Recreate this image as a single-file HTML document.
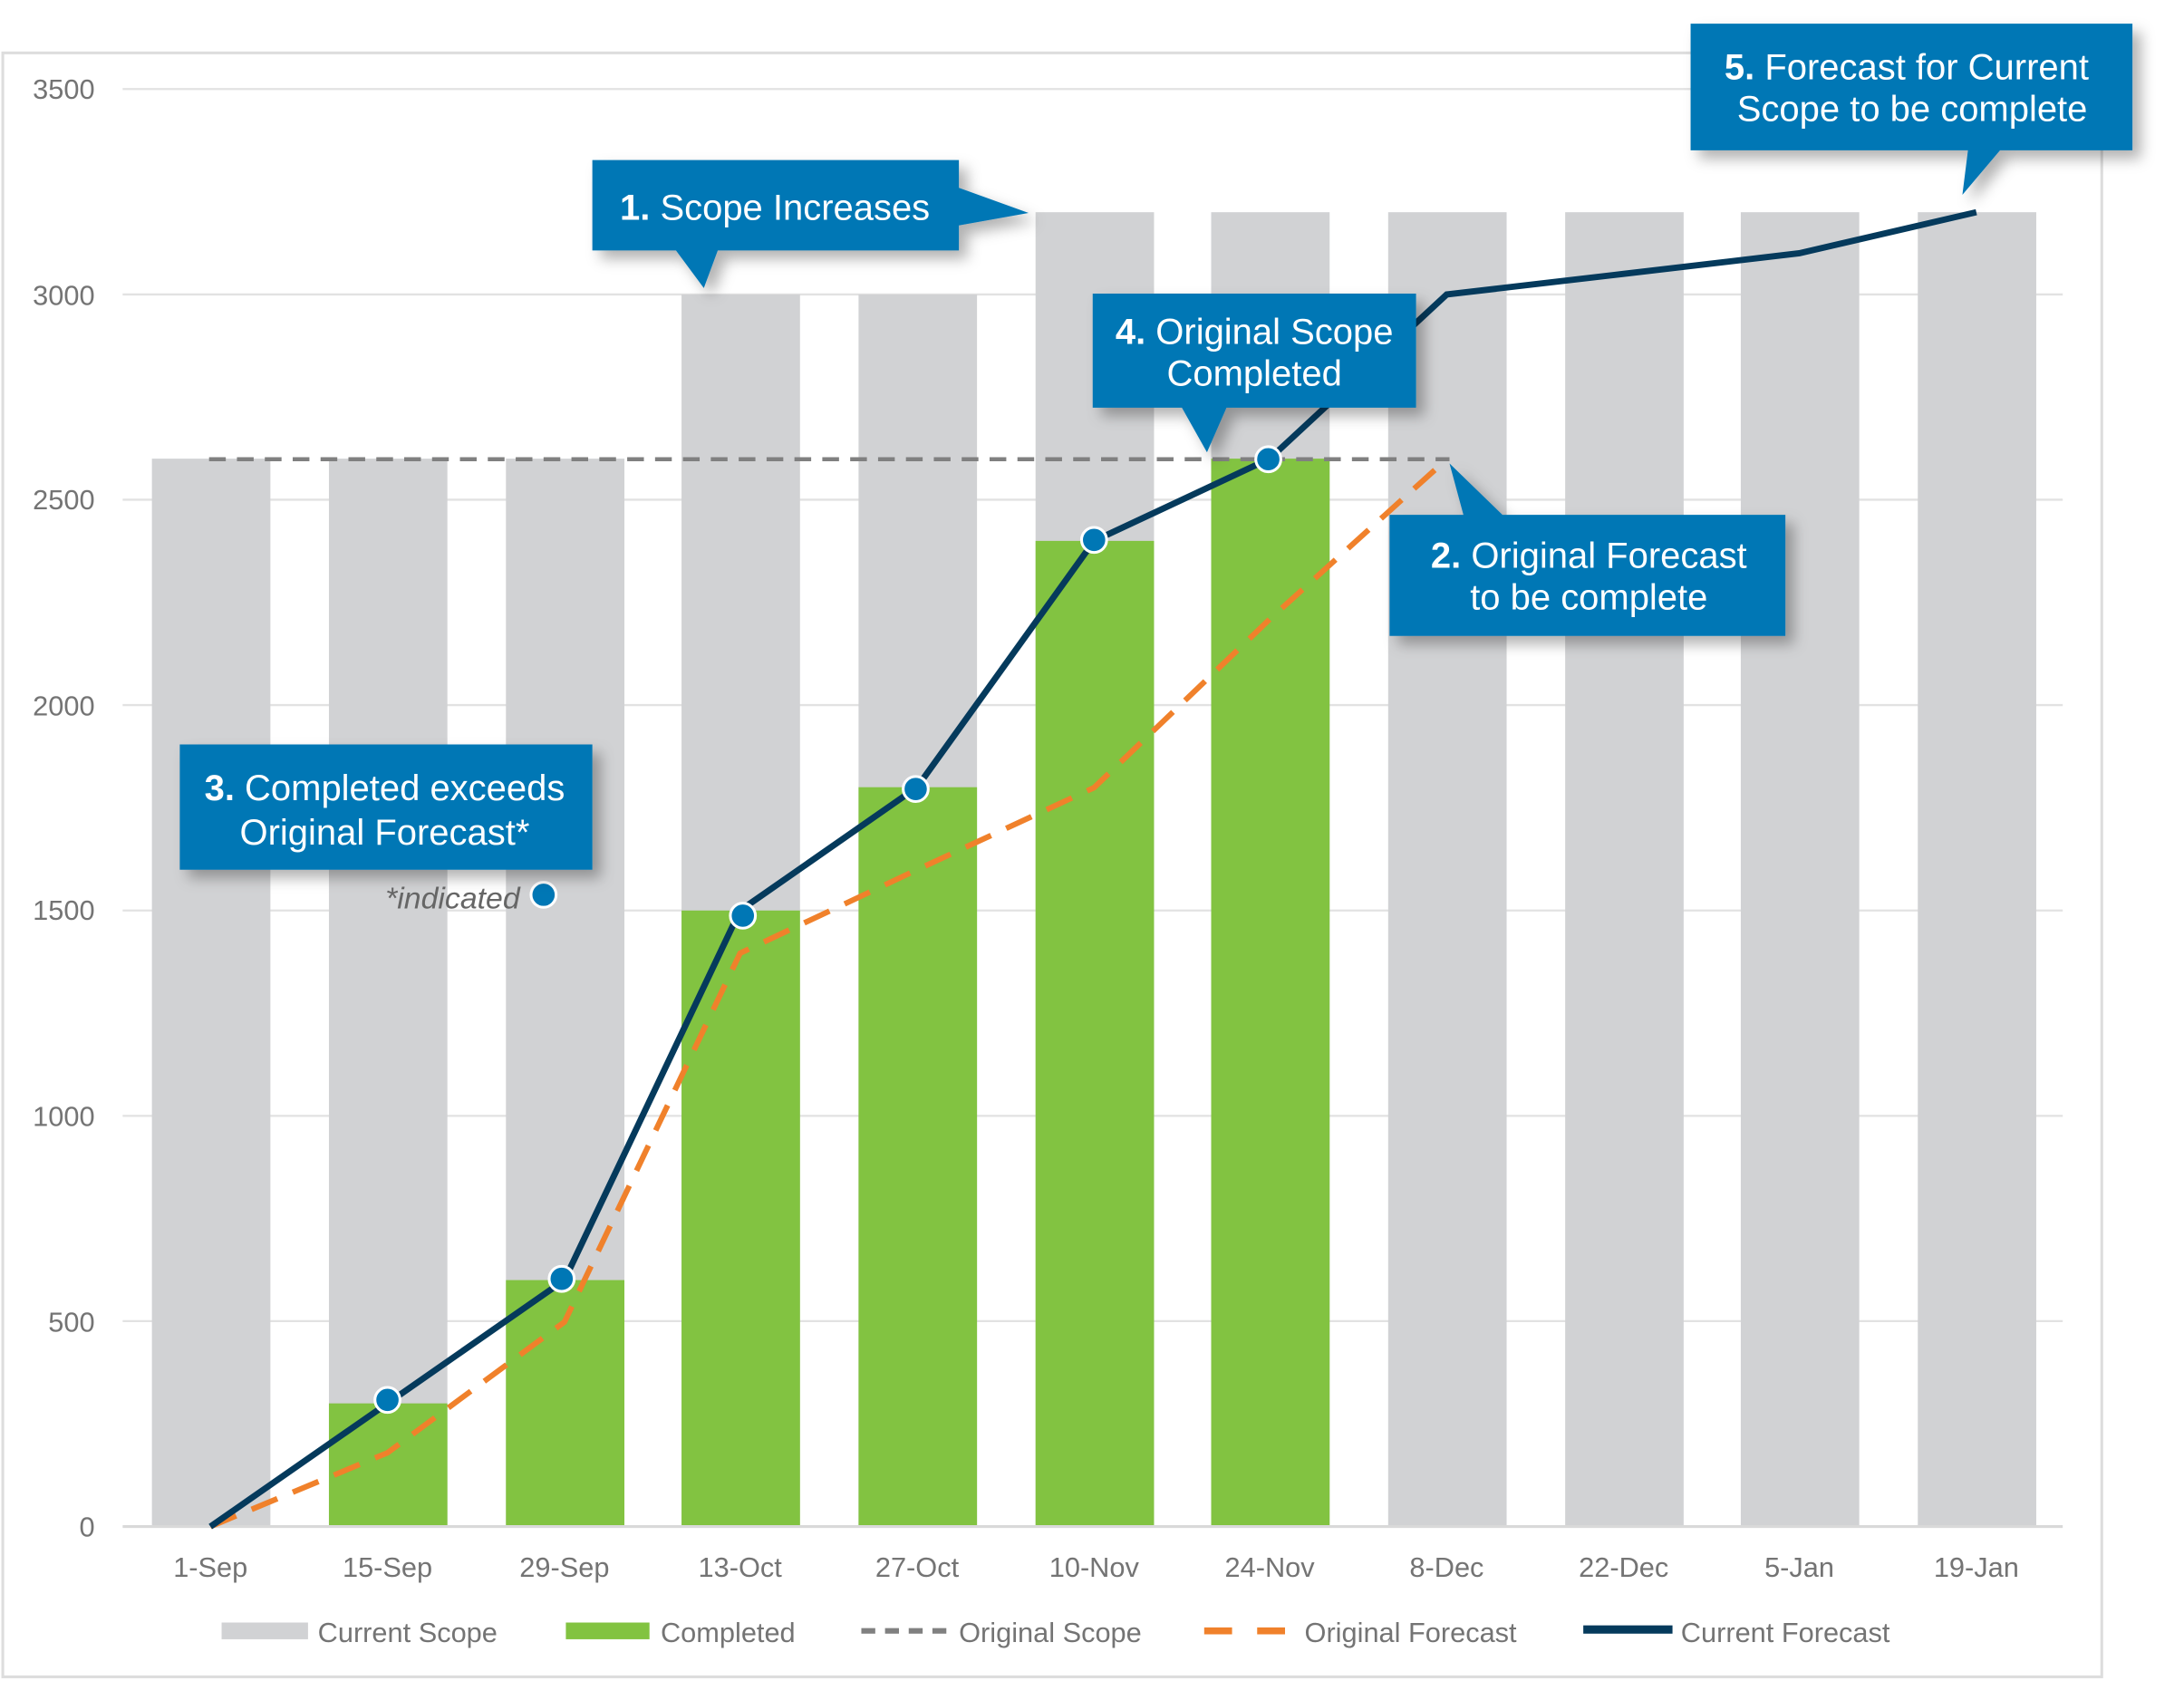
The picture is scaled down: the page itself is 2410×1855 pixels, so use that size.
<!DOCTYPE html>
<html><head><meta charset="utf-8"><style>
html,body{margin:0;padding:0;background:#fff;}
svg{display:block;}
text{font-family:"Liberation Sans",sans-serif;}
</style></head><body>
<svg width="2410" height="1855" viewBox="0 0 1567 1208" preserveAspectRatio="none" xmlns="http://www.w3.org/2000/svg">
<defs>
<filter id="sh" x="-20%" y="-20%" width="150%" height="160%"><feDropShadow dx="6" dy="6" stdDeviation="5" flood-color="#000" flood-opacity="0.3"/></filter>
</defs>
<rect x="2" y="38" width="1506" height="1167" fill="#fff" stroke="#ddd" stroke-width="2"/>
<g stroke="#e2e2e2" stroke-width="1.5">
<line x1="88" y1="64" x2="1480" y2="64"/><line x1="88" y1="211.6" x2="1480" y2="211.6"/>
<line x1="88" y1="359.1" x2="1480" y2="359.1"/><line x1="88" y1="506.7" x2="1480" y2="506.7"/>
<line x1="88" y1="654.3" x2="1480" y2="654.3"/><line x1="88" y1="801.9" x2="1480" y2="801.9"/>
<line x1="88" y1="949.4" x2="1480" y2="949.4"/>
</g>
<g fill="#747474" font-size="20" text-anchor="end">
<text x="68" y="71">3500</text><text x="68" y="219">3000</text><text x="68" y="366">2500</text>
<text x="68" y="514">2000</text><text x="68" y="661">1500</text><text x="68" y="809">1000</text>
<text x="68" y="957">500</text><text x="68" y="1104">0</text>
</g>
<g fill="#d1d2d4">
<rect x="109" y="329.6" width="85" height="767.4"/><rect x="236" y="329.6" width="85" height="767.4"/>
<rect x="363" y="329.6" width="85" height="767.4"/><rect x="489" y="211.6" width="85" height="885.4"/>
<rect x="616" y="211.6" width="85" height="885.4"/><rect x="743" y="152.5" width="85" height="944.5"/>
<rect x="869" y="152.5" width="85" height="944.5"/><rect x="996" y="152.5" width="85" height="944.5"/>
<rect x="1123" y="152.5" width="85" height="944.5"/><rect x="1249" y="152.5" width="85" height="944.5"/>
<rect x="1376" y="152.5" width="85" height="944.5"/>
</g>
<g fill="#82c341">
<rect x="236" y="1008.5" width="85" height="88.5"/><rect x="363" y="919.9" width="85" height="177.1"/>
<rect x="489" y="654.3" width="85" height="442.7"/><rect x="616" y="565.7" width="85" height="531.3"/>
<rect x="743" y="388.7" width="85" height="708.3"/><rect x="869" y="329.6" width="85" height="767.4"/>
</g>
<line x1="88" y1="1097" x2="1480" y2="1097" stroke="#d9d9d9" stroke-width="2"/>
<line x1="150" y1="330" x2="1040" y2="330" stroke="#808080" stroke-width="3" stroke-dasharray="12,8"/>
<polyline points="151,1097 278,1044 405,950 531,685 658,625 785,566 911,445 1038,330" fill="none" stroke="#f0812b" stroke-width="4" stroke-dasharray="20,12"/>
<polyline points="151,1097 278,1008.5 405,919.9 531,654.3 658,565.7 785,388.7 911,329.6 1038,211.6 1165,196.8 1291,182 1418,152.5" fill="none" stroke="#053a5c" stroke-width="4.5"/>
<g fill="#0077b5" stroke="#fff" stroke-width="2">
<circle cx="278" cy="1006" r="9"/><circle cx="403" cy="919" r="9"/><circle cx="533" cy="658" r="9"/>
<circle cx="657" cy="567" r="9"/><circle cx="785" cy="388" r="9"/><circle cx="910" cy="330" r="9"/>
<circle cx="390" cy="643" r="9"/>
</g>
<text x="373" y="653" font-size="22" font-style="italic" fill="#666" text-anchor="end">*indicated</text>
<g fill="#0077b5" filter="url(#sh)">
<path d="M425,115 H688 V135 L738,153 L688,162 V180 H515 L505,207 L485,180 H425 Z"/>
<path d="M1213,17 H1530 V108 H1435 L1408,140 L1412,108 H1213 Z"/>
<path d="M784,211 H1016 V293 H880 L866,325 L848,293 H784 Z"/>
<path d="M997,370 H1281 V457 H997 V370 H1078 L1040,333 L1050,370 Z"/>
<path d="M129,535 H425 V625 H129 Z"/>
</g>
<g fill="#fff" font-size="26" text-anchor="middle">
<text x="556" y="158"><tspan font-weight="bold">1.</tspan> Scope Increases</text>
<text x="1368" y="57"><tspan font-weight="bold">5.</tspan> Forecast for Current</text>
<text x="1372" y="87">Scope to be complete</text>
<text x="900" y="247"><tspan font-weight="bold">4.</tspan> Original Scope</text>
<text x="900" y="277">Completed</text>
<text x="1140" y="408"><tspan font-weight="bold">2.</tspan> Original Forecast</text>
<text x="1140" y="438">to be complete</text>
<text x="276" y="575"><tspan font-weight="bold">3.</tspan> Completed exceeds</text>
<text x="276" y="607">Original Forecast*</text>
</g>
<g fill="#747474" font-size="20" text-anchor="middle">
<text x="151" y="1133">1-Sep</text><text x="278" y="1133">15-Sep</text><text x="405" y="1133">29-Sep</text>
<text x="531" y="1133">13-Oct</text><text x="658" y="1133">27-Oct</text><text x="785" y="1133">10-Nov</text>
<text x="911" y="1133">24-Nov</text><text x="1038" y="1133">8-Dec</text><text x="1165" y="1133">22-Dec</text>
<text x="1291" y="1133">5-Jan</text><text x="1418" y="1133">19-Jan</text>
</g>
<rect x="159" y="1166" width="62" height="12" fill="#d1d2d4"/>
<rect x="406" y="1166" width="60" height="12" fill="#82c341"/>
<line x1="618" y1="1172" x2="684" y2="1172" stroke="#808080" stroke-width="4" stroke-dasharray="10,7"/>
<line x1="864" y1="1172" x2="926" y2="1172" stroke="#f0812b" stroke-width="5" stroke-dasharray="20,18"/>
<line x1="1136" y1="1171" x2="1200" y2="1171" stroke="#053a5c" stroke-width="6"/>
<g fill="#747474" font-size="20">
<text x="228" y="1180">Current Scope</text><text x="474" y="1180">Completed</text>
<text x="688" y="1180">Original Scope</text><text x="936" y="1180">Original Forecast</text>
<text x="1206" y="1180">Current Forecast</text>
</g>
</svg>
</body></html>
